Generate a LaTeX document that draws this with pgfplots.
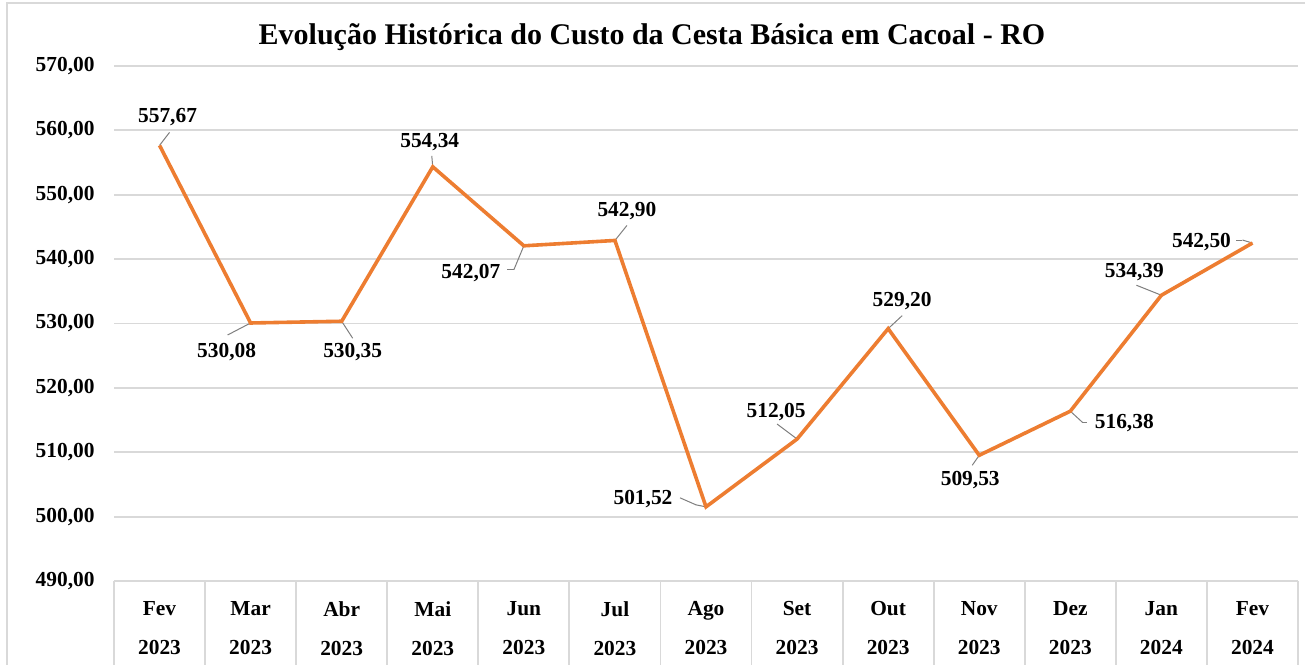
\documentclass[border=0pt]{standalone}
\usepackage{pgfplots}
\pgfplotsset{compat=1.18}
\usepackage{pgfplotstable}
\usepackage{fontspec}
\setmainfont{Liberation Serif}
\definecolor{linecol}{HTML}{ED7D31}
\definecolor{gridcol}{HTML}{D9D9D9}
\definecolor{leadcol}{HTML}{7F7F7F}

% offsets in pt: label centre (labdx,labdy), leader bend (mdx,mdy), leader end (edx,edy)
\pgfplotstableread{
x y labdx labdy mdx mdy edx edy label
0 557.67 4 14 5 6.5 5 6.5 557,67
1 530.08 -12 -14.5 -11.5 -6 -11.5 -6 530,08
2 530.35 5.5 -15.5 5.5 -8.5 5.5 -8.5 530,35
3 554.34 -1.5 12.5 -0.5 5.5 -0.5 5.5 554,34
4 542.07 -26.5 -13.5 -5 -12 -8.5 -12 542,07
5 542.90 6 14.5 6 7.5 6 7.5 542,90
6 501.52 -31.5 4 -5 1 -13 4.5 501,52
7 512.05 -10.5 13.5 -10 7.5 -10 7.5 512,05
8 529.20 7 14 7 6.5 7 6.5 529,20
9 509.53 -4.5 -12.5 -3.5 -5 -3.5 -5 509,53
10 516.38 27 -6 6 -5.5 8.5 -5.5 516,38
11 534.39 -13.5 11.5 -12.5 5 -12.5 5 534,39
12 542.50 -25.5 0.5 -5 1.5 -8 1.5 542,50
}\datatable

% pt per axis unit
\def\ux{45.53846}
\def\uy{3.21875}

\begin{document}
\begin{tikzpicture}
\path[use as bounding box] (-57pt,-41.5pt) rectangle (595.5pt,290.5pt);
\begin{axis}[
  at={(0,0)}, anchor=south west,
  scale only axis, width=592pt, height=257.5pt,
  xmin=-0.5, xmax=12.5, ymin=490, ymax=570,
  ytick={490,500,...,570},
  xtick={0,...,12},
  xticklabels={{Fev\\2023},{Mar\\2023},{Abr\\2023},{Mai\\2023},{Jun\\2023},{Jul\\2023},{Ago\\2023},{Set\\2023},{Out\\2023},{Nov\\2023},{Dez\\2023},{Jan\\2024},{Fev\\2024}},
  axis line style={draw=none},
  ymajorgrids,
  grid style={gridcol, line width=0.9pt},
  major tick length=0pt,
  tick pos=left,
  yticklabel style={font=\bfseries\fontsize{10.7}{12}\selectfont, inner sep=0pt, xshift=-9.5pt,
    /pgf/number format/fixed, /pgf/number format/fixed zerofill, /pgf/number format/precision=2,
    /pgf/number format/use comma, /pgf/number format/1000 sep={}, /pgf/number format/assume math mode=true},
  xticklabel style={font=\bfseries\fontsize{10.7}{19.5}\selectfont, align=center, anchor=north, inner sep=0pt, yshift=-10pt},
  extra x ticks={-0.5,0.5,1.5,2.5,3.5,4.5,5.5,6.5,7.5,8.5,9.5,10.5,11.5,12.5},
  extra x tick labels={},
  extra x tick style={major tick length=60pt, tick align=outside, tick style={gridcol, line width=0.9pt}, grid=none},
  clip=false,
]
% leader lines: point -> bend
\addplot[leadcol, line width=0.5pt, quiver={u=\thisrow{mdx}/\ux, v=\thisrow{mdy}/\uy}]
  table[x=x, y=y] {\datatable};
% leader lines: bend -> end
\addplot[leadcol, line width=0.5pt, quiver={u=(\thisrow{edx}-\thisrow{mdx})/\ux, v=(\thisrow{edy}-\thisrow{mdy})/\uy}]
  table[x expr=\thisrow{x}+\thisrow{mdx}/\ux, y expr=\thisrow{y}+\thisrow{mdy}/\uy] {\datatable};
\addplot[linecol, line width=1.8pt] table[x=x, y=y] {\datatable};
\addplot[only marks, mark=none,
  visualization depends on={\thisrow{labdx} \as \labdx},
  visualization depends on={\thisrow{labdy} \as \labdy},
  nodes near coords, point meta=explicit symbolic,
  nodes near coords style={anchor=center, xshift=\labdx pt, yshift=\labdy pt, text=black, inner sep=0pt,
    font=\bfseries\fontsize{10.7}{12}\selectfont},
] table[x=x, y=y, meta=label] {\datatable};
\end{axis}
\node[font=\bfseries\fontsize{15}{18}\selectfont] at (269pt,272pt) {Evolução Histórica do Custo da Cesta Básica em Cacoal - RO};
\draw[gridcol, line width=1pt] (-53.5pt,-60pt) -- (-53.5pt,289pt) -- (620pt,289pt);
\end{tikzpicture}
\end{document}
